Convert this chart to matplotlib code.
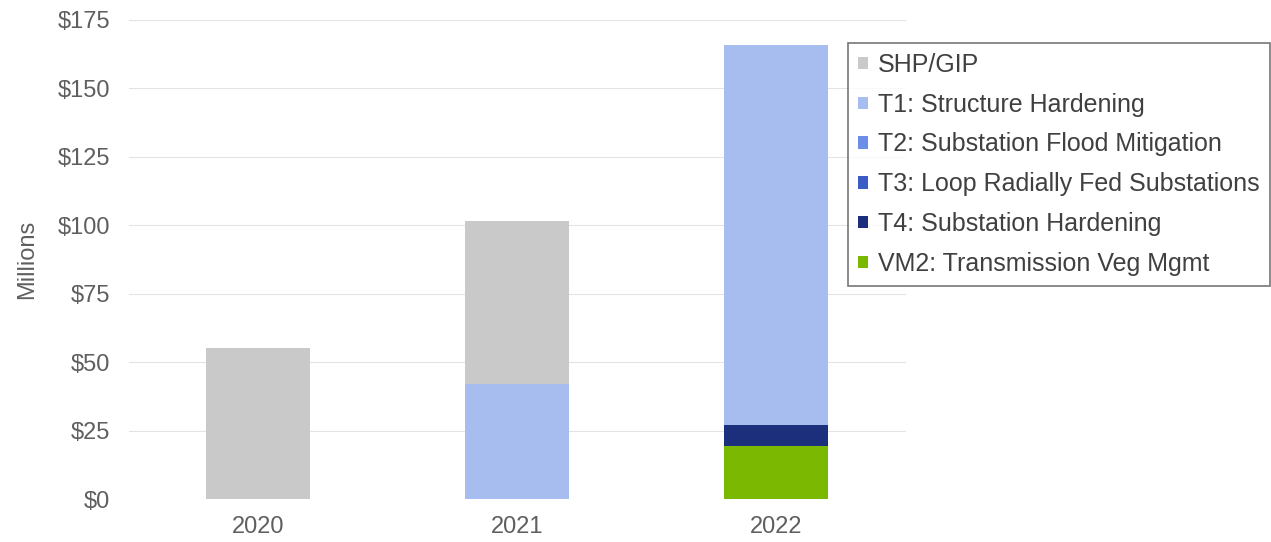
import matplotlib
matplotlib.use("Agg")
import matplotlib.pyplot as plt
from matplotlib.patches import Patch
import numpy as np

plt.rcParams['font.family'] = ['Liberation Sans', 'DejaVu Sans']

years = ["2020", "2021", "2022"]
series_names = [
    "SHP/GIP",
    "T1: Structure Hardening",
    "T2: Substation Flood Mitigation",
    "T3: Loop Radially Fed Substations",
    "T4: Substation Hardening",
    "VM2: Transmission Veg Mgmt",
]
# values in $ millions, stacked bottom-up in this order
vm2 = [0, 0, 19.5]
t4 = [0, 0, 7.5]
t3 = [0, 0, 0]
t2 = [0, 0, 0]
t1 = [0, 42, 139]
shp_gip = [55, 59.5, 0]
y_ticks = [0, 25, 50, 75, 100, 125, 150, 175]

colors = {
    "SHP/GIP": "#c9c9c9",
    "T1: Structure Hardening": "#a7bdf0",
    "T2: Substation Flood Mitigation": "#6d8ee8",
    "T3: Loop Radially Fed Substations": "#3a5cc4",
    "T4: Substation Hardening": "#1b2f7c",
    "VM2: Transmission Veg Mgmt": "#7bb802",
}
hatches = {
    "T2: Substation Flood Mitigation": "////",
    "T3: Loop Radially Fed Substations": "xxxx",
}

stack_order = [
    ("VM2: Transmission Veg Mgmt", vm2),
    ("T4: Substation Hardening", t4),
    ("T3: Loop Radially Fed Substations", t3),
    ("T2: Substation Flood Mitigation", t2),
    ("T1: Structure Hardening", t1),
    ("SHP/GIP", shp_gip),
]

fig = plt.figure(figsize=(12.71, 5.42), dpi=100)
ax = fig.add_axes([128.5 / 1271, 43 / 542, 777 / 1271, 479 / 542])

x = np.arange(len(years))
bottom = np.zeros(len(years))
for name, vals in stack_order:
    vals = np.array(vals, dtype=float)
    ax.bar(x, vals, width=0.4, bottom=bottom, color=colors[name],
           edgecolor="none", linewidth=0, zorder=2)
    bottom += vals

ax.set_xlim(-0.5, 2.5)
ax.set_ylim(0, 175)
ax.set_yticks(y_ticks)
ax.set_yticklabels([f"${v}" for v in y_ticks])
ax.set_xticks(x)
ax.set_xticklabels(years)
ax.tick_params(axis="both", length=0, labelsize=17, labelcolor="#5f5f5f")
ax.tick_params(axis="y", pad=13)
ax.tick_params(axis="x", pad=12)
ax.grid(axis="y", color="#e3e3e3", linewidth=0.8, zorder=0)
for s in ax.spines.values():
    s.set_visible(False)
ax.set_ylabel("Millions", fontsize=17, color="#5f5f5f", labelpad=14)

handles = []
for name in series_names:
    handles.append(Patch(facecolor=colors[name], edgecolor="none",
                         hatch=hatches.get(name)))
leg = fig.legend(handles, series_names, loc="upper left",
                 bbox_to_anchor=(848 / 1271, 1 - 43 / 542),
                 fontsize=18, frameon=True, fancybox=False,
                 handlelength=0.4, handleheight=0.4, handletextpad=0.4,
                 labelspacing=0.63, borderpad=0.4, borderaxespad=0)
leg.get_frame().set_edgecolor("#555555")
leg.get_frame().set_linewidth(1.2)
for t in leg.get_texts():
    t.set_color("#404040")

fig.savefig("out.png", dpi=100, facecolor="white")
